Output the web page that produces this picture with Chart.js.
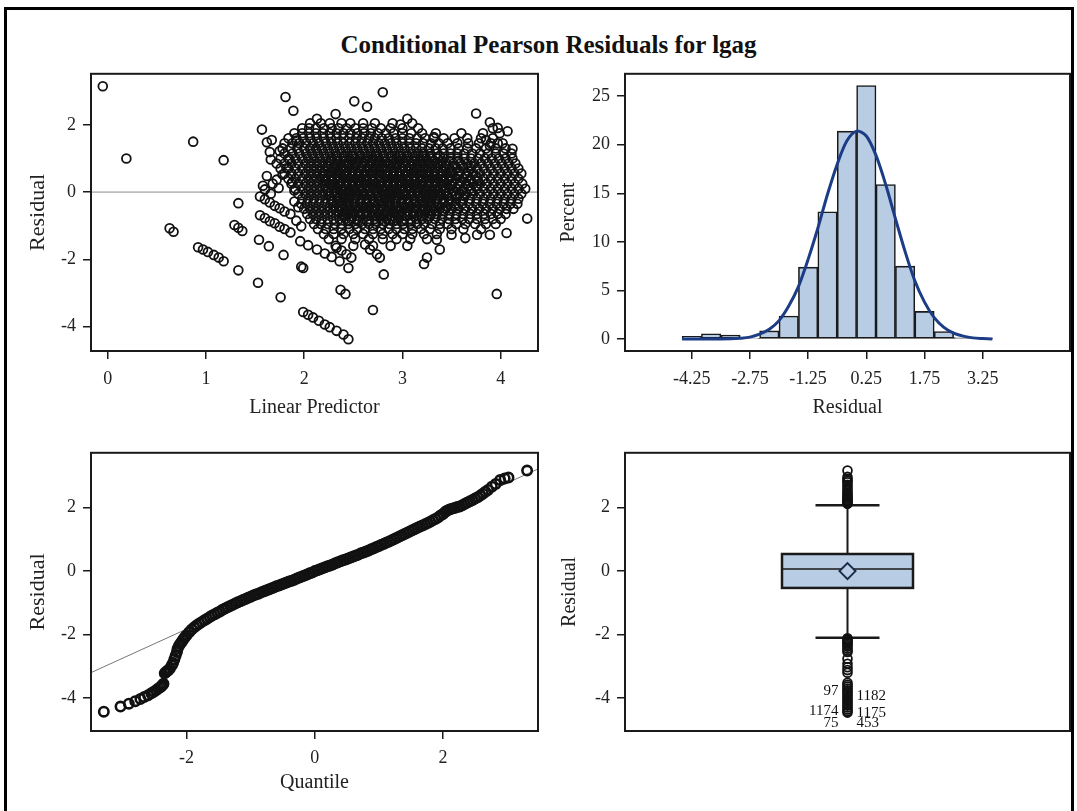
<!DOCTYPE html>
<html>
<head>
<meta charset="utf-8">
<script src="https://cdn.jsdelivr.net/npm/chart.js@4.4.0/dist/chart.umd.min.js"></script>
<style>
  body { margin: 0; background: #fff; width: 1077px; height: 811px; overflow: hidden; position: relative; font-family: "Liberation Serif", serif; }
  .frame { position: absolute; left: 4px; top: 7px; width: 1070px; height: 830px; border: 3px solid #000; box-sizing: border-box; }
  .title { position: absolute; left: 10px; width: 1077px; top: 32px; line-height: 25px; text-align: center; font-weight: bold; font-size: 25px; color: #111; }
  canvas { position: absolute; }
</style>
</head>
<body>
<div class="frame"></div>
<div class="title">Conditional Pearson Residuals for lgag</div>
<canvas id="scatter" width="560" height="370" style="left:0;top:56px"></canvas>
<canvas id="hist" width="525" height="370" style="left:552px;top:56px"></canvas>
<canvas id="qq" width="560" height="376" style="left:0;top:435px"></canvas>
<canvas id="box" width="525" height="376" style="left:552px;top:435px"></canvas>
<script>
// ---- scatter: residual vs linear predictor ----
const scatterXTicks = [0, 1, 2, 3, 4];
const scatterYTicks = [-4, -2, 0, 2];
const scatterXRange = [-0.17, 4.38];
const scatterYRange = [-4.73, 3.52];

// isolated points and band lines
const scatterSparse = [
  [-0.05,3.15],[0.19,1.0],[0.87,1.5],[1.18,0.95],[1.33,-0.33],
  [0.63,-1.08],[0.67,-1.18],[1.29,-0.98],[1.33,-1.06],[1.37,-1.16],
  [0.92,-1.64],[0.97,-1.71],[1.02,-1.78],[1.08,-1.87],[1.13,-1.95],[1.18,-2.06],
  [1.33,-2.33],[1.53,-2.7],[1.76,-3.13],[1.54,-1.42],[1.64,-1.61],[1.79,-1.87],
  [1.57,1.86],[1.81,2.83],[1.89,2.42],[1.62,1.48],[1.67,1.55],[1.65,1.19],[1.66,0.97],
  [1.75,1.22],[1.85,0.98],[1.92,1.53],[1.62,0.48],[1.58,0.19],[1.72,0.37],[1.82,0.71],
  [1.6,0.08],[1.68,0.25],[1.74,0.12],[1.78,0.52],[1.88,0.3],[1.9,0.05],[1.66,-0.05],
  [1.55,-0.13],[1.6,-0.21],[1.65,-0.31],[1.7,-0.41],[1.75,-0.48],[1.8,-0.58],[1.86,-0.65],
  [1.55,-0.69],[1.6,-0.77],[1.65,-0.87],[1.7,-0.93],[1.75,-1.03],[1.8,-1.1],[1.86,-1.2],
  [1.9,-0.28],[1.94,-0.45],[1.92,-0.85],[1.97,-1.02],
  [2.8,2.97],[2.51,2.7],[2.64,2.54],[2.32,2.32],[2.13,2.18],[3.05,2.18],[2.98,2.01],
  [3.75,2.34],[3.89,2.08],[3.97,1.91],[4.07,1.81],[3.85,1.55],[3.89,1.38],[3.97,1.45],
  [4.12,1.29],[3.32,1.64],
  [3.96,-3.03],[2.7,-3.51],[2.81,-2.45],[2.37,-2.91],[2.42,-3.03],
  [1.99,-3.57],[2.04,-3.65],[2.09,-3.73],[2.15,-3.83],[2.21,-3.94],[2.26,-4.02],
  [2.33,-4.13],[2.4,-4.24],[2.45,-4.38],
  [1.97,-2.22],[1.99,-2.26],
  [1.96,-1.46],[2.04,-1.58],[2.13,-1.71],[2.21,-1.83],[2.28,-1.93],[2.36,-2.06],[2.45,-2.26],
  [2.33,-1.66],[2.38,-1.74],[2.43,-1.85],[2.48,-1.95],
  [2.62,-1.56],[2.67,-1.71],[2.74,-1.85],[2.77,-1.95],
  [3.22,-2.14],[3.25,-1.95],[3.38,-1.71],
  [3.89,-1.27],[4.06,-1.22],[4.27,-0.79],[3.64,-1.37],[3.76,-1.27],[3.35,-1.42],[3.5,-1.27]
];

// dense cloud, one row of predictor values per residual level
const scatterRowY = [2.05, 1.9, 1.75, 1.6, 1.45, 1.3, 1.15, 1.0, 0.85, 0.7, 0.55, 0.4, 0.25,
  0.1, -0.05, -0.2, -0.35, -0.5, -0.65, -0.8, -0.95, -1.1, -1.25, -1.4, -1.6];
const scatterRowX = [
  [2.06,2.17,2.26,2.38,2.47,2.6,2.72,2.9,3.1],
  [1.98,2.05,2.12,2.2,2.28,2.35,2.43,2.52,2.6,2.69,2.78,2.88,3.0,3.16,3.92],
  [1.9,1.98,2.05,2.12,2.19,2.26,2.33,2.4,2.47,2.54,2.61,2.68,2.75,2.83,2.91,3.0,3.09,3.2,3.34,3.6,3.82,3.99],
  [1.84,1.92,1.99,2.06,2.13,2.2,2.27,2.33,2.4,2.46,2.53,2.59,2.66,2.72,2.79,2.86,2.93,3.0,3.07,3.15,3.23,3.32,3.42,3.53,3.66,3.8,3.92],
  [1.8,1.88,1.95,2.02,2.09,2.15,2.22,2.28,2.34,2.4,2.46,2.52,2.58,2.64,2.7,2.76,2.82,2.88,2.94,3.0,3.07,3.14,3.21,3.29,3.37,3.46,3.56,3.67,3.78,3.9,4.02],
  [1.78,1.86,1.93,2.0,2.06,2.12,2.18,2.24,2.3,2.36,2.42,2.48,2.54,2.6,2.66,2.72,2.78,2.84,2.9,2.96,3.02,3.08,3.14,3.2,3.27,3.34,3.41,3.49,3.57,3.66,3.75,3.85,3.95,4.05],
  [1.8,1.88,1.95,2.02,2.08,2.14,2.2,2.26,2.32,2.38,2.44,2.5,2.56,2.62,2.68,2.74,2.8,2.86,2.92,2.98,3.04,3.1,3.16,3.22,3.28,3.35,3.42,3.49,3.56,3.63,3.71,3.79,3.87,3.95,4.03,4.11],
  [1.76,1.84,1.91,1.98,2.04,2.1,2.16,2.22,2.28,2.34,2.4,2.46,2.52,2.58,2.64,2.7,2.76,2.82,2.88,2.94,3.0,3.06,3.12,3.18,3.24,3.3,3.36,3.42,3.49,3.56,3.63,3.7,3.77,3.84,3.91,3.98,4.05,4.12],
  [1.72,1.8,1.87,1.94,2.01,2.07,2.13,2.19,2.25,2.31,2.37,2.43,2.49,2.55,2.61,2.67,2.73,2.79,2.85,2.91,2.97,3.03,3.09,3.15,3.21,3.27,3.33,3.39,3.45,3.52,3.59,3.66,3.73,3.8,3.87,3.94,4.01,4.08,4.15],
  [1.76,1.84,1.91,1.98,2.04,2.1,2.16,2.22,2.28,2.34,2.4,2.46,2.52,2.58,2.64,2.7,2.76,2.82,2.88,2.94,3.0,3.06,3.12,3.18,3.24,3.3,3.36,3.42,3.48,3.55,3.62,3.69,3.76,3.83,3.9,3.97,4.04,4.11,4.18],
  [1.8,1.87,1.94,2.01,2.07,2.13,2.19,2.25,2.31,2.37,2.43,2.49,2.55,2.61,2.67,2.73,2.79,2.85,2.91,2.97,3.03,3.09,3.15,3.21,3.27,3.33,3.39,3.45,3.51,3.58,3.65,3.72,3.79,3.86,3.93,4.0,4.07,4.14,4.21],
  [1.84,1.91,1.98,2.04,2.1,2.16,2.22,2.28,2.34,2.4,2.46,2.52,2.58,2.64,2.7,2.76,2.82,2.88,2.94,3.0,3.06,3.12,3.18,3.24,3.3,3.36,3.42,3.48,3.55,3.62,3.69,3.76,3.83,3.9,3.97,4.04,4.11,4.18],
  [1.87,1.94,2.01,2.07,2.13,2.19,2.25,2.31,2.37,2.43,2.49,2.55,2.61,2.67,2.73,2.79,2.85,2.91,2.97,3.03,3.09,3.15,3.21,3.27,3.33,3.39,3.45,3.51,3.58,3.65,3.72,3.79,3.86,3.93,4.0,4.07,4.14,4.22],
  [1.91,1.98,2.04,2.1,2.16,2.22,2.28,2.34,2.4,2.46,2.52,2.58,2.64,2.7,2.76,2.82,2.88,2.94,3.0,3.06,3.12,3.18,3.24,3.3,3.36,3.42,3.48,3.55,3.62,3.69,3.76,3.83,3.9,3.97,4.04,4.11,4.18,4.25],
  [1.94,2.01,2.07,2.13,2.19,2.25,2.31,2.37,2.43,2.49,2.55,2.61,2.67,2.73,2.79,2.85,2.91,2.97,3.03,3.09,3.15,3.21,3.27,3.33,3.39,3.45,3.51,3.58,3.65,3.72,3.79,3.86,3.93,4.0,4.07,4.14,4.21],
  [1.98,2.04,2.1,2.16,2.22,2.28,2.34,2.4,2.46,2.52,2.58,2.64,2.7,2.76,2.82,2.88,2.94,3.0,3.06,3.12,3.18,3.24,3.3,3.36,3.42,3.48,3.55,3.62,3.69,3.76,3.83,3.9,3.97,4.04,4.11,4.18],
  [1.97,2.03,2.09,2.15,2.21,2.27,2.33,2.39,2.45,2.51,2.57,2.63,2.69,2.75,2.81,2.87,2.93,2.99,3.05,3.11,3.17,3.23,3.29,3.35,3.41,3.47,3.54,3.61,3.68,3.75,3.82,3.89,3.96,4.03,4.1,4.17],
  [2.0,2.06,2.12,2.18,2.24,2.3,2.36,2.42,2.48,2.54,2.6,2.66,2.72,2.78,2.84,2.9,2.96,3.02,3.08,3.14,3.2,3.26,3.32,3.38,3.44,3.5,3.57,3.64,3.71,3.78,3.85,3.92,3.99,4.06,4.13],
  [2.03,2.09,2.15,2.21,2.27,2.33,2.39,2.45,2.51,2.57,2.63,2.69,2.75,2.81,2.87,2.93,2.99,3.05,3.11,3.17,3.23,3.29,3.35,3.41,3.48,3.55,3.62,3.69,3.76,3.83,3.9,3.97,4.05],
  [2.06,2.12,2.18,2.24,2.3,2.36,2.42,2.48,2.54,2.6,2.66,2.72,2.78,2.84,2.9,2.96,3.02,3.08,3.14,3.2,3.26,3.33,3.4,3.47,3.54,3.61,3.68,3.76,3.84,3.92,4.0],
  [2.1,2.17,2.24,2.31,2.38,2.45,2.52,2.59,2.66,2.73,2.8,2.87,2.94,3.01,3.08,3.15,3.22,3.3,3.38,3.46,3.55,3.64,3.74,3.85,3.95],
  [2.14,2.22,2.3,2.38,2.46,2.54,2.62,2.7,2.78,2.86,2.94,3.02,3.1,3.19,3.28,3.38,3.5,3.62,3.8],
  [2.2,2.3,2.4,2.5,2.6,2.7,2.8,2.9,3.0,3.1,3.22,3.35],
  [2.25,2.38,2.52,2.66,2.8,2.94,3.08,3.25],
  [2.32,2.5,2.7,2.88,3.05]
];

// extra rows where the cloud is solid black
const scatterCoreY = [1.08, 0.93, 0.78, 0.63, 0.48, 0.33, 0.18, 0.03, -0.12, -0.27, -0.42, -0.57, -0.72, -0.87];
const scatterCoreX = [
  [2.33,2.41,2.49,2.57,2.65,2.73,2.81,2.89,2.97,3.05,3.13,3.21,3.29,3.38],
  [2.27,2.34,2.41,2.48,2.55,2.62,2.69,2.76,2.83,2.9,2.97,3.04,3.11,3.18,3.25,3.32,3.4,3.48,3.57],
  [2.24,2.31,2.38,2.45,2.52,2.59,2.66,2.73,2.8,2.87,2.94,3.01,3.08,3.15,3.22,3.29,3.36,3.44,3.52,3.61,3.7],
  [2.21,2.28,2.35,2.42,2.49,2.56,2.63,2.7,2.77,2.84,2.91,2.98,3.05,3.12,3.19,3.26,3.33,3.41,3.49,3.58,3.67],
  [2.2,2.27,2.34,2.41,2.48,2.55,2.62,2.69,2.76,2.83,2.9,2.97,3.04,3.11,3.18,3.25,3.32,3.4,3.48,3.57,3.66,3.75],
  [2.22,2.29,2.36,2.43,2.5,2.57,2.64,2.71,2.78,2.85,2.92,2.99,3.06,3.13,3.2,3.27,3.34,3.42,3.5,3.59,3.68,3.77],
  [2.21,2.28,2.35,2.42,2.49,2.56,2.63,2.7,2.77,2.84,2.91,2.98,3.05,3.12,3.19,3.26,3.33,3.41,3.49,3.58,3.67,3.76],
  [2.24,2.31,2.38,2.45,2.52,2.59,2.66,2.73,2.8,2.87,2.94,3.01,3.08,3.15,3.22,3.29,3.36,3.44,3.52,3.61,3.7],
  [2.26,2.33,2.4,2.47,2.54,2.61,2.68,2.75,2.82,2.89,2.96,3.03,3.1,3.17,3.24,3.31,3.38,3.46,3.54,3.63],
  [2.29,2.36,2.43,2.5,2.57,2.64,2.71,2.78,2.85,2.92,2.99,3.06,3.13,3.2,3.27,3.34,3.42,3.5,3.59],
  [2.31,2.38,2.45,2.52,2.59,2.66,2.73,2.8,2.87,2.94,3.01,3.08,3.15,3.22,3.29,3.37,3.45,3.54],
  [2.35,2.42,2.49,2.56,2.63,2.7,2.77,2.84,2.91,2.98,3.05,3.12,3.19,3.26,3.34,3.42],
  [2.4,2.48,2.56,2.64,2.72,2.8,2.88,2.96,3.04,3.12,3.2,3.28],
  [2.46,2.55,2.64,2.73,2.82,2.91,3.0,3.09]
];

// ---- histogram of residuals ----
const histCenters = [-4.25,-3.75,-3.25,-2.75,-2.25,-1.75,-1.25,-0.75,-0.25,0.25,0.75,1.25,1.75,2.25,2.75,3.25];
const histPercent = [0.27,0.54,0.4,0.08,0.84,2.37,7.4,13.1,21.4,26.1,15.9,7.5,2.85,0.77,0.15,0.05];
const curveX = [-4.5,-4.25,-4,-3.75,-3.5,-3.25,-3,-2.75,-2.5,-2.25,-2,-1.75,-1.5,-1.25,-1,-0.75,-0.5,-0.25,
  0,0.25,0.5,0.75,1,1.25,1.5,1.75,2,2.25,2.5,2.75,3,3.25,3.5];
const curveY = [0,0,0,0,0,0.02,0.08,0.2,0.5,1.0,1.9,3.4,5.4,8.2,11.4,14.9,18.0,20.4,
  21.4,20.9,18.9,15.9,12.4,9.0,6.0,3.8,2.2,1.2,0.6,0.3,0.12,0.05,0];
const histXTicks = [-4.25, -2.75, -1.25, 0.25, 1.75, 3.25];
const histYTicks = [0, 5, 10, 15, 20, 25];
const histXRange = [-5.97, 5.5];
const histYRange = [-1.23, 27.3];

// ---- Q-Q plot ----
const qqPoints = [
  [-3.29,-4.43],[-3.03,-4.27],[-2.9,-4.18],[-2.8,-4.1],[-2.72,-4.03],[-2.66,-3.97],[-2.6,-3.91],
  [-2.55,-3.85],[-2.51,-3.8],[-2.47,-3.75],[-2.44,-3.7],[-2.41,-3.66],[-2.39,-3.62],[-2.37,-3.58],[-2.36,-3.55],
  [-2.34,-3.22],[-2.32,-3.18],[-2.3,-3.15],[-2.28,-3.12],[-2.26,-3.07],[-2.23,-2.97],[-2.21,-2.9],
  [-2.19,-2.78],[-2.17,-2.66],[-2.15,-2.55],[-2.14,-2.45],[-2.12,-2.36],[-2.1,-2.3],[-2.08,-2.24],
  [-2.06,-2.18],[-2.04,-2.12],[-2.02,-2.07],[-2.0,-2.02],
  [-1.96,-1.93],[-1.92,-1.84],[-1.88,-1.77],[-1.84,-1.71],[-1.8,-1.65],[-1.76,-1.6],[-1.72,-1.55],
  [-1.68,-1.5],[-1.64,-1.45],[-1.6,-1.4],[-1.56,-1.36],[-1.52,-1.31],[-1.48,-1.27],[-1.44,-1.22],
  [-1.4,-1.18],[-1.36,-1.14],[-1.32,-1.1],[-1.28,-1.06],[-1.24,-1.02],[-1.2,-0.98],[-1.16,-0.95],
  [-1.12,-0.91],[-1.08,-0.88],[-1.04,-0.84],[-1.0,-0.81],[-0.96,-0.77],[-0.92,-0.74],[-0.88,-0.71],
  [-0.84,-0.67],[-0.8,-0.64],[-0.76,-0.61],[-0.72,-0.58],[-0.68,-0.55],[-0.64,-0.52],[-0.6,-0.48],
  [-0.56,-0.45],[-0.52,-0.42],[-0.48,-0.39],[-0.44,-0.36],[-0.4,-0.33],[-0.36,-0.3],[-0.32,-0.27],
  [-0.28,-0.23],[-0.24,-0.2],[-0.2,-0.17],[-0.16,-0.14],[-0.12,-0.11],[-0.08,-0.07],[-0.04,-0.04],
  [0,0],[0.04,0.03],[0.08,0.06],[0.12,0.09],[0.16,0.12],[0.2,0.15],[0.24,0.18],[0.28,0.21],
  [0.32,0.25],[0.36,0.28],[0.4,0.31],[0.44,0.34],[0.48,0.37],[0.52,0.4],[0.56,0.43],[0.6,0.46],
  [0.64,0.49],[0.68,0.52],[0.72,0.56],[0.76,0.59],[0.8,0.62],[0.84,0.65],[0.88,0.69],[0.92,0.72],
  [0.96,0.76],[1.0,0.79],[1.04,0.83],[1.08,0.86],[1.12,0.9],[1.16,0.93],[1.2,0.97],[1.24,1.01],
  [1.28,1.05],[1.32,1.09],[1.36,1.13],[1.4,1.17],[1.44,1.21],[1.48,1.25],[1.52,1.29],[1.56,1.33],
  [1.6,1.37],[1.64,1.41],[1.68,1.44],[1.72,1.48],[1.76,1.52],[1.8,1.56],[1.84,1.6],[1.88,1.64],
  [1.92,1.69],[1.96,1.75],[2.0,1.8],[2.03,1.86],[2.06,1.9],[2.1,1.94],[2.14,1.97],[2.18,1.99],
  [2.22,2.02],[2.26,2.04],[2.3,2.08],[2.34,2.12],[2.38,2.16],[2.42,2.2],[2.46,2.24],[2.5,2.29],
  [2.54,2.33],[2.58,2.38],[2.62,2.44],[2.66,2.5],[2.7,2.56],[2.76,2.66],[2.82,2.75],[2.89,2.87],
  [2.96,2.92],[3.02,2.95],[3.31,3.17]
];
const qqLineX = [-3.49, 3.48];
const qqLineY = [-3.2, 3.22];
const qqXTicks = [-2, 0, 2];
const qqYTicks = [-4, -2, 0, 2];
const qqXRange = [-3.49, 3.48];
const qqYRange = [-5.04, 3.73];

// ---- box plot ----
const boxQ1 = -0.53, boxMedian = 0.07, boxQ3 = 0.54, boxMean = 0.0;
const boxWhiskerLow = -2.1, boxWhiskerHigh = 2.08;
const boxOutliers = [3.17,2.97,2.9,2.85,2.8,2.72,2.66,2.58,2.52,2.46,2.4,2.36,2.32,2.28,2.24,2.2,2.17,2.14,2.12,
  -2.12,-2.16,-2.2,-2.24,-2.28,-2.33,-2.38,-2.44,-2.5,-2.55,-2.76,-2.92,-3.03,-3.12,-3.2,
  -3.52,-3.58,-3.64,-3.7,-3.76,-3.82,-3.88,-3.94,-4.0,-4.06,-4.12,-4.18,-4.24,-4.3,-4.36,-4.42,-4.46];
const boxLabelText = ['97', '1182', '1174', '1175', '75', '453'];
const boxLabelY = [-3.78, -3.94, -4.4, -4.48, -4.78, -4.8];
const boxLabelSide = [-1, 1, -1, 1, -1, 1];

const SERIF = '"Liberation Serif", "Times New Roman", serif';
const INK = '#1a1a1a';

// box round every plot area
Chart.register({
  id: 'plotFrame',
  afterDatasetsDraw(chart) {
    const a = chart.chartArea, ctx = chart.ctx;
    ctx.save();
    ctx.strokeStyle = INK;
    ctx.lineWidth = 2;
    ctx.strokeRect(a.left, a.top, a.right - a.left, a.bottom - a.top);
    ctx.restore();
  }
});

function axis(o) {
  return {
    type: 'linear',
    display: o.display !== false,
    min: o.range[0], max: o.range[1],
    offset: false,
    afterBuildTicks: s => { s.ticks = o.ticks.map(v => ({ value: v })); },
    afterFit: s => { if (o.horizontal) s.height = o.size; else s.width = o.size; },
    grid: { display: true, drawOnChartArea: false, drawTicks: true, tickLength: 8, color: INK, lineWidth: 1.5, offset: false },
    border: { display: false },
    ticks: {
      font: { family: SERIF, size: 18 }, color: '#222', padding: o.tickPad,
      autoSkip: false, maxRotation: 0,
      callback: o.fmt || (v => String(v))
    },
    title: {
      display: !!o.title, text: o.title, color: '#222',
      font: { family: SERIF, size: o.titleSize || 20 },
      padding: o.titlePad
    }
  };
}

function baseOptions(pad, scales) {
  return {
    responsive: false, animation: false, devicePixelRatio: 1,
    layout: { padding: pad, autoPadding: false },
    plugins: { legend: { display: false }, tooltip: { enabled: false } },
    scales
  };
}

const ring = { pointStyle: 'circle', pointRadius: 4.4, pointBorderWidth: 1.8, pointBorderColor: '#111', pointBackgroundColor: 'rgba(0,0,0,0)' };

// scatter
const scatterPts = [];
scatterRowY.forEach((y, i) => scatterRowX[i].forEach(x => scatterPts.push({ x, y })));
scatterCoreY.forEach((y, i) => scatterCoreX[i].forEach(x => scatterPts.push({ x, y })));
scatterSparse.forEach(([x, y]) => scatterPts.push({ x, y }));

new Chart(document.getElementById('scatter'), {
  type: 'scatter',
  data: {
    datasets: [
      Object.assign({ data: scatterPts, order: 1 }, ring),
      { type: 'line', data: scatterXRange.map(x => ({ x, y: 0 })), borderColor: '#888', borderWidth: 1, pointRadius: 0, order: 2 }
    ]
  },
  options: baseOptions({ top: 10, right: 22, left: 0, bottom: 0 }, {
    x: axis({ range: scatterXRange, ticks: scatterXTicks, horizontal: true, size: 75, tickPad: 9,
      title: 'Linear Predictor', titlePad: { top: 0, bottom: 6 } }),
    y: axis({ range: scatterYRange, ticks: scatterYTicks, size: 91, tickPad: 7,
      title: 'Residual', titleSize: 22, titlePad: { top: 25, bottom: 0 } })
  })
});

// histogram + normal curve
new Chart(document.getElementById('hist'), {
  type: 'bar',
  data: {
    datasets: [
      { type: 'line', data: curveX.map((x, i) => ({ x, y: curveY[i] })), borderColor: '#1c3d85', borderWidth: 3,
        pointRadius: 0, tension: 0.3, order: 1 },
      { data: histCenters.map((x, i) => ({ x, y: histPercent[i] })), backgroundColor: '#b8cce4', borderColor: INK,
        borderWidth: 1.6, borderSkipped: false, barPercentage: 1, categoryPercentage: 1, order: 2 }
    ]
  },
  options: baseOptions({ top: 10, right: 7, left: 0, bottom: 0 }, {
    x: axis({ range: histXRange, ticks: histXTicks, horizontal: true, size: 75, tickPad: 9, fmt: v => v.toFixed(2),
      title: 'Residual', titlePad: { top: 0, bottom: 6 } }),
    y: axis({ range: histYRange, ticks: histYTicks, size: 73, tickPad: 7,
      title: 'Percent', titlePad: { top: 5, bottom: 0 } })
  })
});

// Q-Q plot
new Chart(document.getElementById('qq'), {
  type: 'scatter',
  data: {
    datasets: [
      Object.assign({ data: qqPoints.map(([x, y]) => ({ x, y })), order: 1 }, ring, { pointRadius: 4.7, pointBorderWidth: 2.6 }),
      { type: 'line', data: qqLineX.map((x, i) => ({ x, y: qqLineY[i] })), borderColor: '#777', borderWidth: 1, pointRadius: 0, order: 2 }
    ]
  },
  options: baseOptions({ top: 10, right: 22, left: 0, bottom: 0 }, {
    x: axis({ range: qqXRange, ticks: qqXTicks, horizontal: true, size: 80, tickPad: 8,
      title: 'Quantile', titlePad: { top: 0, bottom: 16 } }),
    y: axis({ range: qqYRange, ticks: qqYTicks, size: 91, tickPad: 7,
      title: 'Residual', titleSize: 22, titlePad: { top: 25, bottom: 0 } })
  })
});

// box plot drawn with the chart's own scales
const boxPlotPlugin = {
  id: 'boxPlot',
  beforeDatasetsDraw(chart) {
    const { ctx } = chart, xs = chart.scales.x, ys = chart.scales.y;
    const cx = xs.getPixelForValue(0), half = 65.5, cap = 32;
    const py = v => ys.getPixelForValue(v);
    ctx.save();
    ctx.strokeStyle = INK;
    ctx.lineWidth = 2;
    ctx.beginPath();
    ctx.moveTo(cx, py(boxQ3)); ctx.lineTo(cx, py(boxWhiskerHigh));
    ctx.moveTo(cx, py(boxQ1)); ctx.lineTo(cx, py(boxWhiskerLow));
    ctx.stroke();
    ctx.lineWidth = 2.5;
    ctx.beginPath();
    ctx.moveTo(cx - cap, py(boxWhiskerHigh)); ctx.lineTo(cx + cap, py(boxWhiskerHigh));
    ctx.moveTo(cx - cap, py(boxWhiskerLow)); ctx.lineTo(cx + cap, py(boxWhiskerLow));
    ctx.stroke();
    ctx.fillStyle = '#b8cce4';
    ctx.fillRect(cx - half, py(boxQ3), 2 * half, py(boxQ1) - py(boxQ3));
    ctx.lineWidth = 2.5;
    ctx.strokeRect(cx - half, py(boxQ3), 2 * half, py(boxQ1) - py(boxQ3));
    ctx.lineWidth = 1.5;
    ctx.beginPath();
    ctx.moveTo(cx - half, py(boxMedian)); ctx.lineTo(cx + half, py(boxMedian));
    ctx.stroke();
    const my = py(boxMean), d = 8;
    ctx.beginPath();
    ctx.moveTo(cx, my - d); ctx.lineTo(cx + d, my); ctx.lineTo(cx, my + d); ctx.lineTo(cx - d, my); ctx.closePath();
    ctx.fillStyle = '#b8cce4';
    ctx.fill();
    ctx.strokeStyle = '#1b2a4a';
    ctx.lineWidth = 2;
    ctx.stroke();
    ctx.restore();
  },
  afterDatasetsDraw(chart) {
    const { ctx } = chart, xs = chart.scales.x, ys = chart.scales.y;
    const cx = xs.getPixelForValue(0);
    ctx.save();
    ctx.font = '15px ' + SERIF;
    ctx.fillStyle = '#111';
    ctx.textBaseline = 'middle';
    boxLabelText.forEach((t, i) => {
      ctx.textAlign = boxLabelSide[i] < 0 ? 'right' : 'left';
      ctx.fillText(t, cx + boxLabelSide[i] * 9, ys.getPixelForValue(boxLabelY[i]));
    });
    ctx.restore();
  }
};

new Chart(document.getElementById('box'), {
  type: 'scatter',
  data: {
    datasets: [Object.assign({ data: boxOutliers.map(y => ({ x: 0, y })) }, ring)]
  },
  options: baseOptions({ top: 10, right: 7, left: 0, bottom: 80 }, {
    x: axis({ display: false, range: [-1, 1], ticks: [], horizontal: true, size: 0, tickPad: 0 }),
    y: axis({ range: qqYRange, ticks: qqYTicks, size: 73, tickPad: 7,
      title: 'Residual', titlePad: { top: 6, bottom: 0 } })
  }),
  plugins: [boxPlotPlugin]
});
</script>
</body>
</html>
